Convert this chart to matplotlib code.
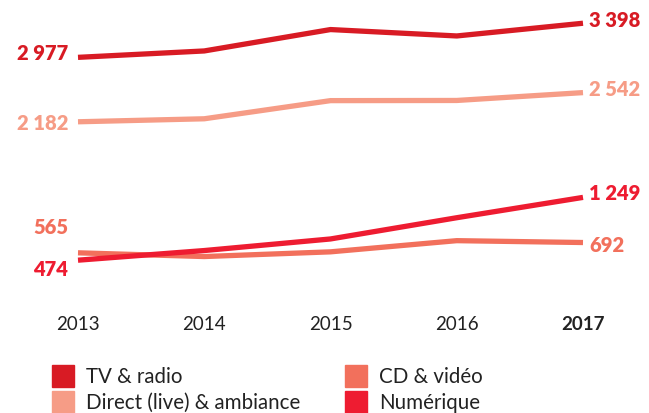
import matplotlib.pyplot as plt
from matplotlib.patches import Rectangle

plt.rcParams['font.family'] = ['Lato', 'DejaVu Sans']

years = [2013, 2014, 2015, 2016, 2017]
year_labels = ['2013', '2014', '2015', '2016', '2017']

tv_radio = [2977, 3056, 3320, 3241, 3398]
direct_live = [2182, 2219, 2443, 2445, 2542]
cd_video = [565, 519, 577, 715, 692]
numerique = [474, 593, 736, 998, 1249]

series_names = ['TV & radio', 'CD & vidéo', 'Direct (live) & ambiance', 'Numérique']
series_values = [tv_radio, cd_video, direct_live, numerique]
series_colors = ['#d81b24', '#f2705c', '#f69c86', '#ee1c31']

# label offsets in pixels (start label, end label)
start_dy = [5, 26, -1, -8]
end_dy = [4, -2, 4, 5]

fig = plt.figure(figsize=(6.49, 4.14), dpi=100)
ax = fig.add_axes([0, (414 - 290) / 414, 1, 280 / 414])

px = 12.34
ax.set_xlim(2013 - 78 / 126.25, 2013 + (649 - 78) / 126.25)
ax.set_ylim(474 - 28 * px - 10, 474 + 252 * px - 10)

for vals, col in zip(series_values, series_colors):
    ax.plot(years, vals, color=col, linewidth=3.8, solid_capstyle='butt', clip_on=False)

for vals, col, sdy, edy in zip(series_values, series_colors, start_dy, end_dy):
    first = f"{vals[0]:,}".replace(',', ' ')
    last = f"{vals[-1]:,}".replace(',', ' ')
    ax.annotate(first, (years[0], vals[0]), xytext=(-10, sdy), textcoords='offset pixels',
                ha='right', va='center', fontsize=14.5, fontweight='heavy', color=col)
    ax.annotate(last, (years[-1], vals[-1]), xytext=(6, edy), textcoords='offset pixels',
                ha='left', va='center', fontsize=14.5, fontweight='heavy', color=col)

ax.set_xticks(years)
ax.set_xticklabels(year_labels, fontsize=13.5, color='#222222')
ax.get_xticklabels()[-1].set_fontweight('bold')
ax.tick_params(axis='x', length=0, pad=19)
ax.set_yticks([])
for s in ax.spines.values():
    s.set_visible(False)

# legend, two columns, row-major order
W, H = 649, 414
col_x = [52, 345]
row_y = [377, 403]
for i, (name, col) in enumerate(zip(series_names, series_colors)):
    cx = col_x[i % 2]
    cy = row_y[i // 2]
    fig.patches.append(Rectangle((cx / W, (H - cy - 11) / H), 22 / W, 22 / H,
                                 transform=fig.transFigure, color=col))
    fig.text((cx + 34) / W, (H - cy) / H, name, fontsize=14.8, color='#222222',
             ha='left', va='center')

fig.savefig('out.png', dpi=100)
